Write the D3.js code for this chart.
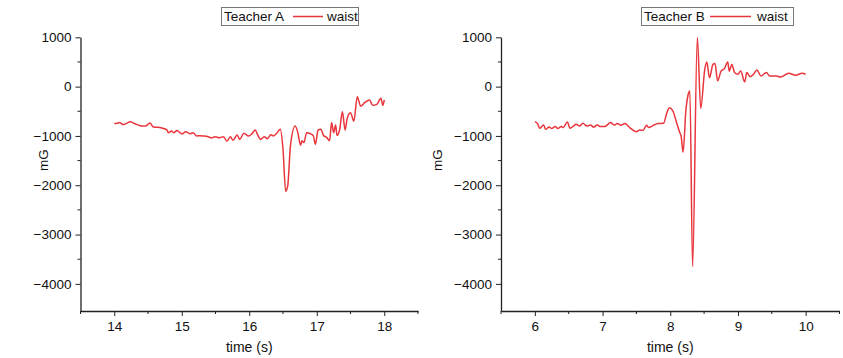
<!DOCTYPE html>
<html>
<head>
<meta charset="utf-8">
<script src="https://cdn.jsdelivr.net/npm/d3@7/dist/d3.min.js"></script>
<style>
  html, body { margin: 0; padding: 0; background: #fff; }
  svg { display: block; }
  text { font-family: "Liberation Sans", Arial, sans-serif; fill: #111; }
</style>
</head>
<body>
<svg id="chart" width="843" height="358"></svg>
<script>
// Teacher A – waist magnetometer trace
const timeA = [14.00,14.04,14.08,14.13,14.18,14.24,14.28,14.33,14.41,14.46,14.53,14.58,14.65,14.73,14.78,14.80,14.85,14.88,14.93,14.97,
  15.00,15.06,15.12,15.17,15.22,15.27,15.32,15.39,15.44,15.49,15.56,15.62,15.67,15.72,15.76,15.82,15.86,15.92,15.99,
  16.04,16.09,16.12,16.17,16.22,16.27,16.32,16.36,16.41,16.46,16.50,16.54,16.57,16.61,16.68,16.72,16.76,16.78,16.81,16.85,16.90,16.95,16.98,
  17.02,17.06,17.10,17.15,17.19,17.22,17.25,17.28,17.30,17.34,17.38,17.42,17.45,17.50,17.55,17.60,17.65,17.71,17.78,17.83,17.89,17.95,17.98,18.00];
const magA = [-750,-745,-730,-770,-745,-710,-735,-765,-800,-800,-740,-820,-825,-850,-880,-935,-900,-935,-890,-930,
  -960,-915,-955,-935,-1000,-995,-1000,-1015,-1040,-1015,-1035,-1015,-1110,-1015,-1090,-980,-1070,-945,-1000,
  -955,-880,-965,-1070,-1015,-1055,-975,-1000,-940,-865,-1270,-2125,-2015,-1205,-800,-935,-1190,-1100,-1135,-935,-950,-1000,-1170,
  -880,-865,-990,-1035,-1100,-730,-935,-780,-990,-865,-510,-880,-650,-530,-700,-205,-395,-325,-270,-380,-360,-235,-380,-270];

// Teacher B – waist magnetometer trace
const timeB = [6.00,6.04,6.07,6.13,6.16,6.21,6.25,6.30,6.34,6.39,6.42,6.48,6.52,6.57,6.61,6.66,6.71,6.77,6.82,6.87,6.92,6.97,
  7.03,7.12,7.17,7.22,7.27,7.33,7.40,7.50,7.55,7.60,7.65,7.68,7.75,7.82,7.90,7.95,7.99,
  8.04,8.10,8.14,8.16,8.19,8.23,8.26,8.29,8.33,8.40,8.45,8.51,8.54,8.58,8.63,8.66,8.70,8.75,8.80,8.85,8.87,8.91,8.95,
  9.00,9.04,9.10,9.13,9.18,9.23,9.28,9.34,9.42,9.47,9.57,9.63,9.75,9.85,9.95,10.00];
const magB = [-710,-750,-845,-780,-865,-820,-850,-810,-850,-810,-830,-715,-845,-800,-765,-800,-745,-800,-780,-820,-780,-810,
  -810,-730,-780,-750,-785,-750,-830,-915,-880,-885,-785,-830,-785,-750,-745,-530,-430,
  -495,-760,-930,-1000,-1330,-500,-190,-90,-3650,995,-440,350,500,180,450,470,115,315,365,500,315,450,285,
  250,315,95,285,200,250,335,215,285,215,215,195,270,230,270,250];

const xTicksA = [14, 15, 16, 17, 18];
const xTicksB = [6, 7, 8, 9, 10];
const yTicks = [1000, 0, -1000, -2000, -3000, -4000];

const panels = [
  { name: "Teacher A", t: timeA, v: magA, xDomain: [13.5, 18.5], xTicks: xTicksA,
    left: 80.5, right: 418, yTitleX: 47.5,
    legend: { x: 221, w: 137, lineX: 293, lineW: 30, labelX: 327 } },
  { name: "Teacher B", t: timeB, v: magB, xDomain: [5.5, 10.5], xTicks: xTicksB,
    left: 501, right: 839.5, yTitleX: 441.5,
    legend: { x: 641, w: 152, lineX: 710, lineW: 41, labelX: 757 } }
];

const svg = d3.select("#chart");
const plotTop = 37.3, plotBottom = 311;
const lineColor = "#e8363c";
const axisColor = "#222";

panels.forEach(p => {
  const x = d3.scaleLinear().domain(p.xDomain).range([p.left, p.right]);
  const y = d3.scaleLinear().domain([-4550, 1000]).range([plotBottom, plotTop]);
  const g = svg.append("g");

  // x axis: major ticks with labels, minor ticks at half seconds
  const xAxis = g.append("g").attr("transform", `translate(0,${plotBottom})`)
    .call(d3.axisBottom(x).tickValues(p.xTicks).tickFormat(d3.format("d")).tickSize(5).tickSizeOuter(0).tickPadding(5));
  const xMinor = d3.range(p.xDomain[0], p.xDomain[1] + 0.001, 0.5).filter(v => !p.xTicks.includes(v));
  g.append("g").attr("transform", `translate(0,${plotBottom})`)
    .selectAll("line").data(xMinor).join("line")
    .attr("x1", d => x(d)).attr("x2", d => x(d)).attr("y1", 0).attr("y2", 3)
    .attr("stroke", axisColor).attr("stroke-width", 1);

  // y axis
  const yAxis = g.append("g").attr("transform", `translate(${p.left},0)`)
    .call(d3.axisLeft(y).tickValues(yTicks).tickFormat(d3.format("d")).tickSize(5).tickSizeOuter(0).tickPadding(4));
  const yMinor = [500, -500, -1500, -2500, -3500];
  g.append("g").attr("transform", `translate(${p.left},0)`)
    .selectAll("line").data(yMinor).join("line")
    .attr("y1", d => y(d)).attr("y2", d => y(d)).attr("x1", 0).attr("x2", -3)
    .attr("stroke", axisColor).attr("stroke-width", 1);

  [xAxis, yAxis].forEach(ax => {
    ax.select(".domain").attr("stroke", axisColor).attr("stroke-width", 1.3);
    ax.selectAll(".tick line").attr("stroke", axisColor).attr("stroke-width", 1);
    ax.selectAll(".tick text").attr("font-size", 13.5).attr("fill", "#111")
      .attr("font-family", "'Liberation Sans', Arial, sans-serif");
  });

  // axis titles
  g.append("text").attr("x", (p.left + p.right) / 2).attr("y", 352)
    .attr("text-anchor", "middle").attr("font-size", 14).text("time (s)");
  g.append("text").attr("transform", `translate(${p.yTitleX},160) rotate(-90)`)
    .attr("text-anchor", "middle").attr("font-size", 13.5).text("mG");

  // trace
  const pts = p.t.map((t, i) => [t, p.v[i]]);
  g.append("path").datum(pts)
    .attr("fill", "none").attr("stroke", lineColor).attr("stroke-width", 1.5)
    .attr("stroke-linejoin", "round")
    .attr("d", d3.line().x(d => x(d[0])).y(d => y(d[1])).curve(d3.curveMonotoneX));

  // legend box
  const L = p.legend;
  const lg = g.append("g");
  lg.append("rect").attr("x", L.x + 0.5).attr("y", 7.5).attr("width", L.w).attr("height", 18)
    .attr("fill", "#fff").attr("stroke", "#777").attr("stroke-width", 1);
  lg.append("text").attr("x", L.x + 3).attr("y", 21).attr("font-size", 13.5).text(p.name);
  lg.append("line").attr("x1", L.lineX).attr("x2", L.lineX + L.lineW).attr("y1", 16.5).attr("y2", 16.5)
    .attr("stroke", lineColor).attr("stroke-width", 1.5);
  lg.append("text").attr("x", L.labelX).attr("y", 21).attr("font-size", 13.5).text("waist");
});
</script>
</body>
</html>
